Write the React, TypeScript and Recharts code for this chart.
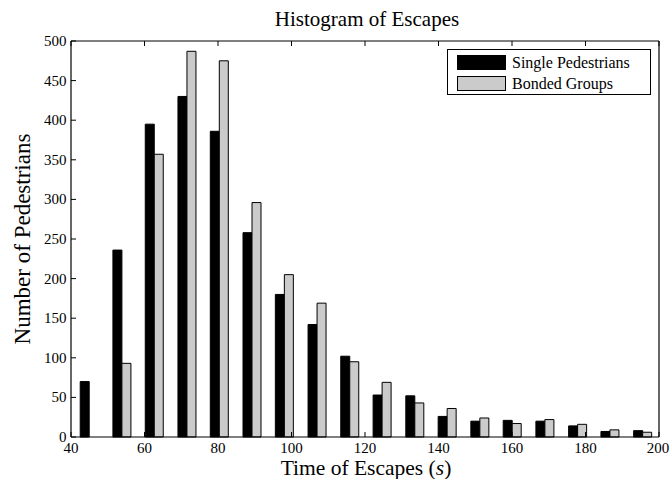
import React from "react";
import { BarChart, Bar, XAxis, YAxis, Customized } from "recharts";

const binCenters = [45.0, 53.9, 62.7, 71.6, 80.4, 89.3, 98.1, 107.0, 115.9, 124.7, 133.6, 142.4, 151.3, 160.1, 169.0, 177.9, 186.7, 195.6];
const singlePedestrians = [70, 236, 395, 430, 386, 258, 180, 142, 102, 53, 52, 26, 20, 21, 20, 14, 7, 8];
const bondedGroups = [0, 93, 357, 487, 475, 296, 205, 169, 95, 69, 43, 36, 24, 17, 22, 16, 9, 6];
const xTicks = [40, 60, 80, 100, 120, 140, 160, 180, 200];
const yTicks = [0, 50, 100, 150, 200, 250, 300, 350, 400, 450, 500];

const data = binCenters.map((x, i) => ({
  x,
  single: singlePedestrians[i],
  bonded: bondedGroups[i],
}));

const FONT = "Liberation Serif, Times New Roman, serif";
const W = 670;
const H = 479;

const Titles = () => (
  <g fontFamily={FONT} fill="#000">
    <text x={367} y={26} textAnchor="middle" fontSize={21} fontFamily={FONT}>
      Histogram of Escapes
    </text>
    <text x={366} y={475} textAnchor="middle" fontSize={21.5} fontFamily={FONT}>
      <tspan>Time of Escapes (</tspan>
      <tspan fontStyle="italic">s</tspan>
      <tspan>)</tspan>
    </text>
    <text
      x={30}
      y={239}
      textAnchor="middle"
      fontSize={23}
      fontFamily={FONT}
      transform="rotate(-90, 30, 239)"
    >
      Number of Pedestrians
    </text>
  </g>
);

const XTick = (props: any) => (
  <text
    x={props.x}
    y={props.y}
    dy={10.5}
    textAnchor="middle"
    fontFamily={FONT}
    fontSize={15}
    fill="#000"
  >
    {props.payload.value}
  </text>
);

const YTick = (props: any) => (
  <text
    x={props.x}
    y={props.y}
    dy={5}
    textAnchor="end"
    fontFamily={FONT}
    fontSize={15}
    fill="#000"
  >
    {props.payload.value}
  </text>
);

const blank = () => "";

export default function App() {
  return (
    <div style={{ position: "absolute", left: 0, top: 0, width: W, height: H, background: "#fff", fontFamily: FONT }}>
      <BarChart
        width={W}
        height={H}
        data={data}
        margin={{ top: 40, right: 10, left: 0, bottom: 0 }}
        barGap={0}
        barSize={9}
      >
        <XAxis
          xAxisId="bottom"
          dataKey="x"
          type="number"
          domain={[40, 200]}
          ticks={xTicks}
          allowDataOverflow
          height={42}
          tickSize={-5}
          tickMargin={10}
          tick={XTick}
          stroke="#000"
          axisLine={{ stroke: "#000", strokeWidth: 1.2 }}
          tickLine={{ stroke: "#000" }}
        />
        <XAxis
          xAxisId="top"
          dataKey="x"
          type="number"
          orientation="top"
          domain={[40, 200]}
          ticks={xTicks}
          allowDataOverflow
          height={1}
          tickSize={-5}
          tickFormatter={blank}
          stroke="#000"
          axisLine={{ stroke: "#000", strokeWidth: 1.2 }}
          tickLine={{ stroke: "#000" }}
        />
        <YAxis
          yAxisId="left"
          type="number"
          domain={[0, 500]}
          ticks={yTicks}
          width={71}
          tickSize={-5}
          tickMargin={9.5}
          tick={YTick}
          stroke="#000"
          axisLine={{ stroke: "#000", strokeWidth: 1.2 }}
          tickLine={{ stroke: "#000" }}
        />
        <YAxis
          yAxisId="right"
          orientation="right"
          type="number"
          domain={[0, 500]}
          ticks={yTicks}
          width={1}
          tickSize={-5}
          tickFormatter={blank}
          stroke="#000"
          axisLine={{ stroke: "#000", strokeWidth: 1.2 }}
          tickLine={{ stroke: "#000" }}
        />
        <Bar
          xAxisId="bottom"
          yAxisId="left"
          dataKey="single"
          fill="#000"
          stroke="#000"
          strokeWidth={1}
          isAnimationActive={false}
        />
        <Bar
          xAxisId="bottom"
          yAxisId="left"
          dataKey="bonded"
          fill="#cbcbcb"
          stroke="#000"
          strokeWidth={1}
          isAnimationActive={false}
        />
        <Customized component={Titles} />
      </BarChart>
      <div
        style={{
          position: "absolute",
          left: 447,
          top: 49,
          width: 204,
          height: 46,
          boxSizing: "border-box",
          border: "1px solid #000",
          background: "#fff",
          fontFamily: FONT,
          fontSize: 16,
          color: "#000",
        }}
      >
        {[
          { name: "Single Pedestrians", color: "#000" },
          { name: "Bonded Groups", color: "#cbcbcb" },
        ].map((item, i) => (
          <div
            key={item.name}
            style={{
              position: "absolute",
              left: 9,
              top: 4 + i * 20.5,
              height: 17,
              display: "flex",
              alignItems: "center",
              whiteSpace: "nowrap",
            }}
          >
            <span
              style={{
                display: "inline-block",
                width: 49,
                height: 15,
                background: item.color,
                border: "1px solid #000",
                boxSizing: "border-box",
                marginRight: 6,
              }}
            />
            <span style={{ lineHeight: "17px" }}>{item.name}</span>
          </div>
        ))}
      </div>
    </div>
  );
}
